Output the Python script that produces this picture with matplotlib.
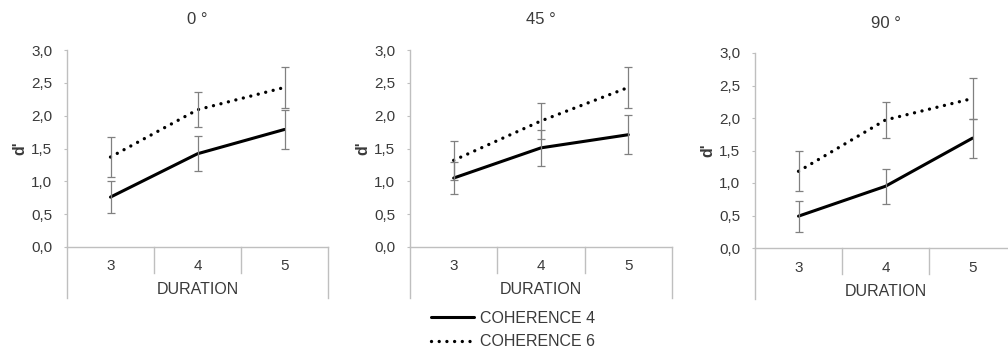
import numpy as np
import matplotlib.pyplot as plt

plt.rcParams['font.family'] = ['Liberation Sans', 'DejaVu Sans']

# data
durations = ["3", "4", "5"]
panels = ["0 °", "45 °", "90 °"]
coh4 = [[0.76, 1.42, 1.79], [1.05, 1.51, 1.71], [0.49, 0.95, 1.69]]
coh4_err = [[0.24, 0.27, 0.29], [0.25, 0.27, 0.30], [0.24, 0.27, 0.30]]
coh6 = [[1.37, 2.09, 2.43], [1.32, 1.92, 2.43], [1.18, 1.97, 2.30]]
coh6_err = [[0.30, 0.27, 0.31], [0.30, 0.27, 0.31], [0.31, 0.27, 0.31]]
yticks = [0.0, 0.5, 1.0, 1.5, 2.0, 2.5, 3.0]

W, H = 1008, 354
txt = '#3a3a3a'
grid = '#bfbfbf'
# axes boxes in pixels: left, top, right, bottom
boxes = [(67, 50, 328, 247), (410, 50, 672, 247), (755, 53, 1016, 248)]

fig = plt.figure(figsize=(W / 100, H / 100), dpi=100)
x = np.arange(len(durations))

for i, (l, t, r, b) in enumerate(boxes):
    ax = fig.add_axes([l / W, 1 - b / H, (r - l) / W, (b - t) / H])
    hpx = b - t
    ax.errorbar(x, coh6[i], yerr=coh6_err[i], fmt='none', ecolor='#808080',
                elinewidth=0.9, capsize=3, capthick=0.9, zorder=3)
    ax.errorbar(x, coh4[i], yerr=coh4_err[i], fmt='none', ecolor='#808080',
                elinewidth=0.9, capsize=3, capthick=0.9, zorder=3)
    l4, = ax.plot(x, coh4[i], color='black', lw=2.2, solid_capstyle='round', zorder=2)
    l6, = ax.plot(x, coh6[i], color='black', lw=2.4, linestyle=(0, (0.01, 2.3)),
                  dash_capstyle='round', zorder=2)

    ax.set_xlim(-0.5, 2.5)
    ax.set_ylim(0, 3)
    for s in ['top', 'right']:
        ax.spines[s].set_visible(False)
    for s in ['left', 'bottom']:
        ax.spines[s].set_color(grid)
        ax.spines[s].set_linewidth(1)

    ax.set_yticks(yticks)
    ax.set_yticklabels([f"{v:.1f}".replace('.', ',') for v in yticks])
    ax.tick_params(axis='y', length=2.5, width=0.8, color=grid, pad=8,
                   labelsize=11, labelcolor=txt)
    ax.set_xticks(x)
    ax.set_xticklabels(durations)
    ax.tick_params(axis='x', length=0, pad=9, labelsize=11, labelcolor=txt)

    tr = ax.get_xaxis_transform()
    for xd in [0.5, 1.5]:
        ax.plot([xd, xd], [0, -26 / hpx], color=grid, lw=1, transform=tr, clip_on=False)
    for xd in [-0.5, 2.5]:
        ax.plot([xd, xd], [0, -51 / hpx], color=grid, lw=1, transform=tr, clip_on=False)

    ax.text(0.5, -43 / hpx, 'DURATION', transform=ax.transAxes, ha='center',
            va='center', fontsize=11.5, color=txt)
    ax.text(0.5, 1 + 30 / hpx, panels[i], transform=ax.transAxes, ha='center',
            va='center', fontsize=12, color=txt)
    ax.text(-47 / (r - l), 0.5, "d'", transform=ax.transAxes, ha='center',
            va='center', rotation=90, fontsize=11.5, fontweight='bold', color=txt)

fig.legend([l4, l6], ['COHERENCE 4', 'COHERENCE 6'], loc='center',
           bbox_to_anchor=(513 / W, 1 - 330 / H), frameon=False, fontsize=11.5,
           handlelength=2.7, handletextpad=0.35, labelspacing=0.55, borderpad=0,
           labelcolor=txt)

fig.savefig('out.png', dpi=100)
